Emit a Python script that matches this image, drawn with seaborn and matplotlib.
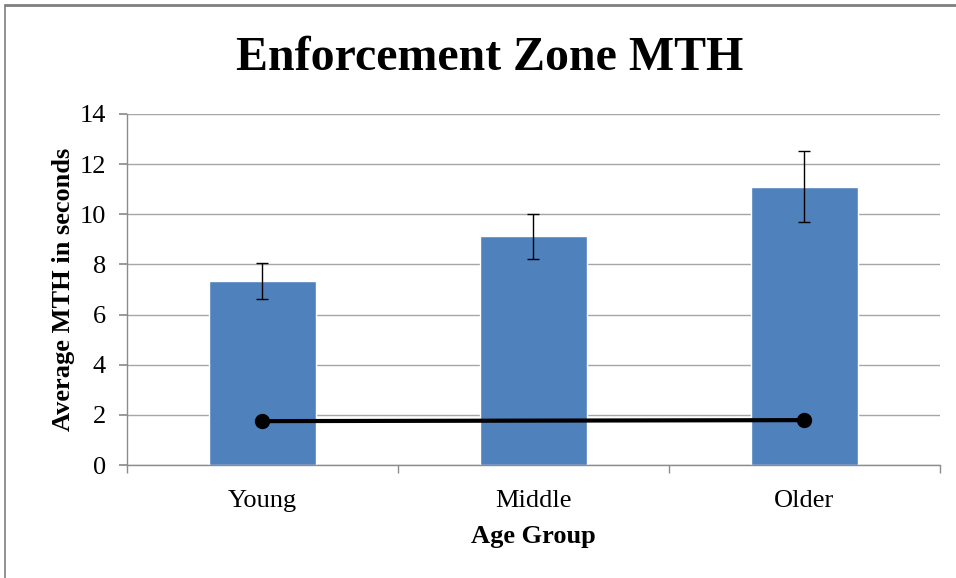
import numpy as np
import pandas as pd
import seaborn as sns
import matplotlib.pyplot as plt
from matplotlib.lines import Line2D

# values
groups = ["Young", "Middle", "Older"]
mth_mean = [7.32, 9.14, 11.08]
err_low = [6.62, 8.22, 9.69]
err_high = [8.04, 10.01, 12.53]
line_vals = [1.75, 1.77, 1.79]

df = pd.DataFrame({"group": groups, "mth": mth_mean})

sns.set_theme(style="white")
plt.rcParams["font.family"] = ["Liberation Serif", "DejaVu Serif"]
plt.rcParams["text.color"] = "black"
plt.rcParams["axes.labelcolor"] = "black"
plt.rcParams["xtick.labelcolor"] = "black"
plt.rcParams["ytick.labelcolor"] = "black"

fig = plt.figure(figsize=(9.56, 5.78), dpi=100)
ax = fig.add_axes([0.1328, 0.1955, 0.8502, 0.6073])

sns.barplot(data=df, x="group", y="mth", color="#4F81BD", saturation=1,
            width=0.395, errorbar=None, ax=ax, zorder=2)

xs = np.arange(len(groups))
mean = np.array(mth_mean)
yerr = [mean - np.array(err_low), np.array(err_high) - mean]
ax.errorbar(xs, mean, yerr=yerr, fmt="none", ecolor="black", elinewidth=1,
            capsize=4.5, capthick=1, zorder=3)

ax.plot(xs, line_vals, color="black", lw=3, marker="o", markersize=10,
        markevery=[0, 2], zorder=4)

ax.set_xlim(-0.5, 2.5)
ax.set_ylim(0, 14)
ax.set_yticks(range(0, 15, 2))
ax.yaxis.grid(True, color="#a6a6a6", lw=1)
ax.set_axisbelow(True)

for s in ["top", "right"]:
    ax.spines[s].set_visible(False)
for s in ["left", "bottom"]:
    ax.spines[s].set_color("#8c8c8c")
    ax.spines[s].set_linewidth(1)

ax.tick_params(axis="y", which="major", left=True, length=6, color="#8c8c8c",
               labelsize=19, pad=9)
ax.tick_params(axis="x", which="major", bottom=False, labelsize=19, pad=12)
ax.set_xticks([-0.5, 0.5, 1.5, 2.5], minor=True)
ax.tick_params(axis="x", which="minor", bottom=True, length=6, color="#8c8c8c")

ax.set_xlabel("Age Group", fontsize=19, fontweight="bold", labelpad=9)
ax.set_ylabel("Average MTH in seconds", fontsize=19, fontweight="bold", labelpad=3)
fig.text(0.512, 0.90, "Enforcement Zone MTH", ha="center", va="center",
         fontsize=34.5, fontweight="bold")

# outer chart frame
fig.add_artist(Line2D([0.005, 1], [0.992, 0.992], color="#7f7f7f", lw=2,
                      transform=fig.transFigure))
fig.add_artist(Line2D([0.005, 0.005], [0, 0.992], color="#7f7f7f", lw=1.2,
                      transform=fig.transFigure))

fig.savefig("out.png", dpi=100)
